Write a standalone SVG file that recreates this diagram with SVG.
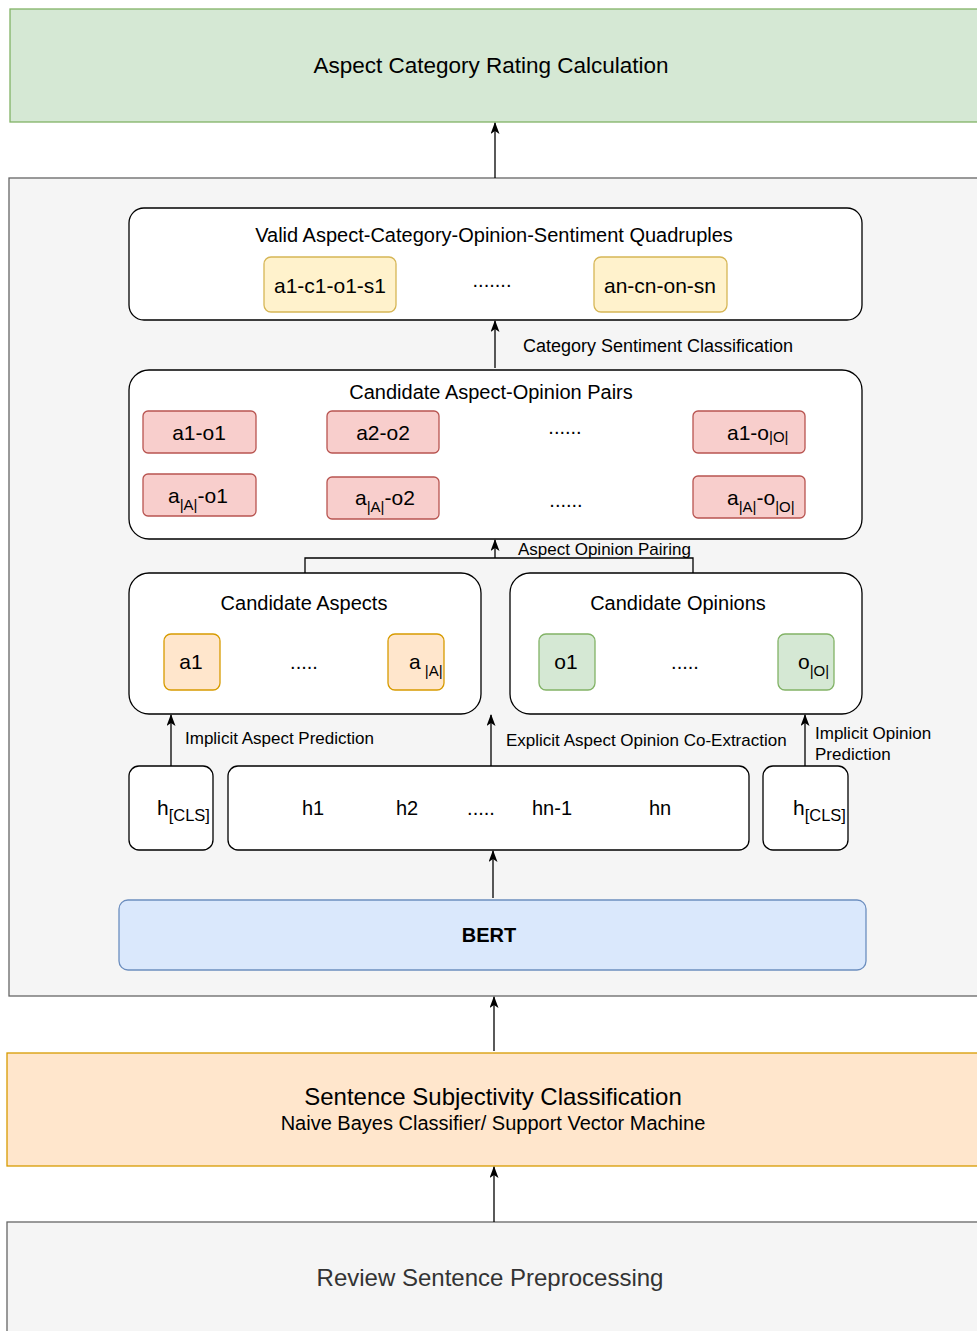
<svg xmlns="http://www.w3.org/2000/svg" width="977" height="1331" viewBox="0 0 977 1331">
<style>
text{font-family:"Liberation Sans",Arial,sans-serif;fill:#000;}
.c{text-anchor:middle;}
.wb{fill:#fff;stroke:#000;stroke-width:1.3;}
.yel{fill:#fff2cc;stroke:#d6b656;stroke-width:1.3;}
.red{fill:#f8cecc;stroke:#b85450;stroke-width:1.3;}
.org{fill:#ffe6cc;stroke:#d79b00;stroke-width:1.3;}
.grn{fill:#d5e8d4;stroke:#82b366;stroke-width:1.3;}
.gry{fill:#f5f5f5;stroke:#666;stroke-width:1.3;}
.ln{fill:none;stroke:#000;stroke-width:1.3;marker-end:url(#ah);}
.pl{fill:none;stroke:#000;stroke-width:1.3;}
.t20{font-size:20px;}
.t21{font-size:21px;}
.t22{font-size:22px;}
.lab{font-size:17px;}
.sub{font-size:15px;}
</style>
<defs>
<marker id="ah" viewBox="0 0 12 9" refX="11" refY="4.5" markerWidth="12" markerHeight="9" markerUnits="userSpaceOnUse" orient="auto">
<path d="M0,0 L12,4.5 L0,9 L3,4.5 Z" fill="#000"/>
</marker>
</defs>
<rect width="977" height="1331" fill="#fff"/>

<g id="rating">
<rect x="10" y="9" width="975" height="113" fill="#d5e8d4" stroke="#82b366" stroke-width="1.3"/>
<text x="491" y="73" class="c" style="font-size:22.5px">Aspect Category Rating Calculation</text>
</g>

<g id="container">
<rect x="9" y="178" width="975" height="818" class="gry"/>
</g>

<g id="quadruples">
<rect x="129" y="208" width="733" height="112" rx="15" class="wb"/>
<text x="494" y="242" class="c t20">Valid Aspect-Category-Opinion-Sentiment Quadruples</text>
<rect x="264" y="257" width="132" height="55" rx="7" class="yel"/>
<text x="330" y="293" class="c t21">a1-c1-o1-s1</text>
<text x="492" y="287" class="c t20">.......</text>
<rect x="594" y="257" width="133" height="55" rx="7" class="yel"/>
<text x="660" y="293" class="c t21">an-cn-on-sn</text>
</g>

<g id="pairs">
<rect x="129" y="370" width="733" height="169" rx="20" class="wb"/>
<text x="491" y="399" class="c t20">Candidate Aspect-Opinion Pairs</text>
<rect x="143" y="411" width="113" height="42" rx="5" class="red"/>
<text x="199" y="440" class="c t21">a1-o1</text>
<rect x="327" y="411" width="112" height="42" rx="5" class="red"/>
<text x="383" y="440" class="c t21">a2-o2</text>
<text x="565" y="434" class="c t20">......</text>
<rect x="693" y="411" width="112" height="42" rx="5" class="red"/>
<text x="727" y="440" class="t21">a1-o<tspan class="sub" dy="2">|O|</tspan></text>
<rect x="143" y="474" width="113" height="42" rx="5" class="red"/>
<text x="168" y="503" class="t21">a<tspan class="sub" dy="7">|A|</tspan><tspan dy="-7">-o1</tspan></text>
<rect x="327" y="477" width="112" height="42" rx="5" class="red"/>
<text x="355" y="505" class="t21">a<tspan class="sub" dy="7">|A|</tspan><tspan dy="-7">-o2</tspan></text>
<text x="566" y="507" class="c t20">......</text>
<rect x="693" y="476" width="112" height="42" rx="5" class="red"/>
<text x="727" y="505" class="t21">a<tspan class="sub" dy="7">|A|</tspan><tspan dy="-7">-o</tspan><tspan class="sub" dy="7">|O|</tspan></text>
</g>

<g id="aspects">
<rect x="129" y="573" width="352" height="141" rx="20" class="wb"/>
<text x="304" y="610" class="c t20">Candidate Aspects</text>
<rect x="164" y="634" width="56" height="56" rx="7" class="org"/>
<text x="191" y="669" class="c t21">a1</text>
<text x="304" y="669" class="c t20">.....</text>
<rect x="388" y="634" width="56" height="56" rx="7" class="org"/>
<text x="409" y="669" class="t21">a<tspan class="sub" dy="7"> |A|</tspan></text>
</g>

<g id="opinions">
<rect x="510" y="573" width="352" height="141" rx="20" class="wb"/>
<text x="678" y="610" class="c t20">Candidate Opinions</text>
<rect x="539" y="634" width="56" height="56" rx="7" class="grn"/>
<text x="566" y="669" class="c t21">o1</text>
<text x="685" y="669" class="c t20">.....</text>
<rect x="778" y="634" width="56" height="56" rx="7" class="grn"/>
<text x="798" y="669" class="t21">o<tspan class="sub" dy="7">|O|</tspan></text>
</g>

<g id="hcls-left">
<rect x="129" y="766" width="84" height="84" rx="10" class="wb"/>
<text x="157" y="815" class="t21">h<tspan dy="6" style="font-size:16.5px">[CLS]</tspan></text>
</g>

<g id="hidden">
<rect x="228" y="766" width="521" height="84" rx="10" class="wb"/>
<text x="313" y="815" class="c t20">h1</text>
<text x="407" y="815" class="c t20">h2</text>
<text x="481" y="815" class="c t20">.....</text>
<text x="552" y="815" class="c t20">hn-1</text>
<text x="660" y="815" class="c t20">hn</text>
</g>

<g id="hcls-right">
<rect x="763" y="766" width="85" height="84" rx="10" class="wb"/>
<text x="793" y="815" class="t21">h<tspan dy="6" style="font-size:16.5px">[CLS]</tspan></text>
</g>

<g id="bert">
<rect x="119" y="900" width="747" height="70" rx="9" fill="#dae8fc" stroke="#6c8ebf" stroke-width="1.3"/>
<text x="489" y="942" class="c t20" font-weight="bold">BERT</text>
</g>

<g id="subjectivity">
<rect x="7" y="1053" width="978" height="113" class="org"/>
<text x="493" y="1105" class="c" style="font-size:24px">Sentence Subjectivity Classification</text>
<text x="493" y="1130" class="c t20">Naive Bayes Classifier/ Support Vector Machine</text>
</g>

<g id="preprocessing">
<rect x="7" y="1222" width="978" height="120" class="gry"/>
<text x="490" y="1286" class="c" style="font-size:24px;fill:#333">Review Sentence Preprocessing</text>
</g>

<g id="connectors">
<path d="M495,178 L495,123" class="ln"/>
<path d="M495,368 L495,321" class="ln"/>
<text x="523" y="352" style="font-size:18px">Category Sentiment Classification</text>
<path d="M305,573 L305,558 L693,558 L693,573" class="pl"/>
<path d="M495,558 L495,540" class="ln"/>
<text x="518" y="555" class="lab">Aspect Opinion Pairing</text>
<path d="M171,766 L171,715" class="ln"/>
<text x="185" y="744" class="lab">Implicit Aspect Prediction</text>
<path d="M491,766 L491,715" class="ln"/>
<text x="506" y="746" class="lab">Explicit Aspect Opinion Co-Extraction</text>
<path d="M805,766 L805,715" class="ln"/>
<text x="815" y="739" class="lab">Implicit Opinion</text>
<text x="815" y="760" class="lab">Prediction</text>
<path d="M493,898 L493,851" class="ln"/>
<path d="M494,1051 L494,997" class="ln"/>
<path d="M494,1222 L494,1167" class="ln"/>
</g>
</svg>
